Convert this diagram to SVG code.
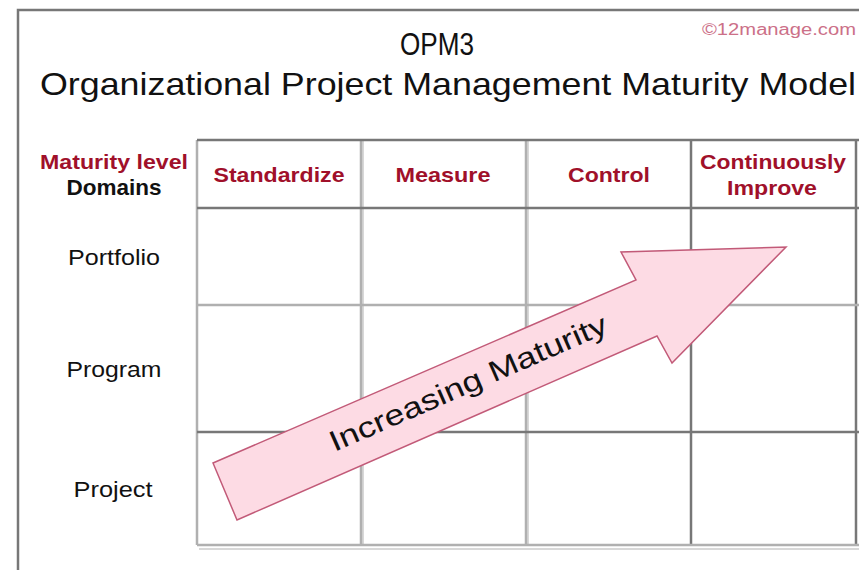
<svg xmlns="http://www.w3.org/2000/svg" width="859" height="570" viewBox="0 0 859 570">
<style>
.t{font-family:"Liberation Sans",Arial,sans-serif}
.hd{font-family:"Liberation Sans",Arial,sans-serif;font-weight:bold;font-size:21px;fill:#a0102a;text-anchor:middle}
.rw{font-family:"Liberation Sans",Arial,sans-serif;font-size:22px;fill:#111;text-anchor:middle}
.dk{stroke:#777;stroke-width:2.5;fill:none}
.lt{stroke:#b0b0b0;stroke-width:2.5;fill:none}
.sh{stroke:#d8d8d8;stroke-width:2;fill:none}
</style>
<rect width="859" height="570" fill="#fff"/>
<g id="frame">
<path d="M18 570 V10 H859" class="dk"/>
</g>
<g id="title">
<text x="437" y="55" class="t" font-size="32" fill="#111" text-anchor="middle" textLength="74" lengthAdjust="spacingAndGlyphs">OPM3</text>
<text x="40" y="95" class="t" font-size="32" fill="#111" textLength="816" lengthAdjust="spacingAndGlyphs">Organizational Project Management Maturity Model</text>
<text x="702" y="35" class="t" font-size="16" fill="#cc7088" textLength="154" lengthAdjust="spacingAndGlyphs">©12manage.com</text>
</g>
<g id="grid">
<line x1="197" y1="140" x2="197" y2="545" class="lt"/>
<line x1="363" y1="140" x2="363" y2="545" class="sh"/>
<line x1="361" y1="140" x2="361" y2="545" class="lt"/>
<line x1="528" y1="140" x2="528" y2="545" class="sh"/>
<line x1="526" y1="140" x2="526" y2="545" class="lt"/>
<line x1="691" y1="140" x2="691" y2="545" class="dk"/>
<line x1="856" y1="140" x2="856" y2="545" class="dk"/>
<line x1="197" y1="140" x2="859" y2="140" class="dk"/>
<line x1="197" y1="208" x2="859" y2="208" class="dk"/>
<line x1="197" y1="305" x2="859" y2="305" class="lt"/>
<line x1="197" y1="432" x2="859" y2="432" class="dk"/>
<line x1="197" y1="545" x2="859" y2="545" class="lt"/>
<line x1="199" y1="549" x2="859" y2="549" class="sh"/>
</g>
<g id="corner">
<text x="114" y="169" class="hd" textLength="148" lengthAdjust="spacingAndGlyphs">Maturity level</text>
<text x="114" y="195" class="rw" font-size="21" font-weight="bold" fill="#000" textLength="95" lengthAdjust="spacingAndGlyphs">Domains</text>
</g>
<g id="h-standardize"><text x="279" y="182" class="hd" textLength="131" lengthAdjust="spacingAndGlyphs">Standardize</text></g>
<g id="h-measure"><text x="443" y="182" class="hd" textLength="95" lengthAdjust="spacingAndGlyphs">Measure</text></g>
<g id="h-control"><text x="609" y="182" class="hd" textLength="82" lengthAdjust="spacingAndGlyphs">Control</text></g>
<g id="h-improve"><text x="773" y="169" class="hd" textLength="146" lengthAdjust="spacingAndGlyphs">Continuously</text><text x="772" y="195" class="hd" textLength="90" lengthAdjust="spacingAndGlyphs">Improve</text></g>
<g id="r-portfolio"><text x="114" y="265" class="rw" textLength="92" lengthAdjust="spacingAndGlyphs">Portfolio</text></g>
<g id="r-program"><text x="114" y="377" class="rw" textLength="95" lengthAdjust="spacingAndGlyphs">Program</text></g>
<g id="r-project"><text x="113" y="497" class="rw" textLength="79" lengthAdjust="spacingAndGlyphs">Project</text></g>
<g id="connectors">
<g id="arrow">
<polygon points="213,463 636,280 621,252 786,247 672,363 657,336 237,520" fill="#fddbe4" stroke="#c25a78" stroke-width="1.5" stroke-linejoin="miter"/>
<text transform="translate(472,392) rotate(-23.6)" class="t" font-size="29" fill="#111" text-anchor="middle" textLength="300" lengthAdjust="spacingAndGlyphs">Increasing Maturity</text>
</g>
</g>
</svg>
